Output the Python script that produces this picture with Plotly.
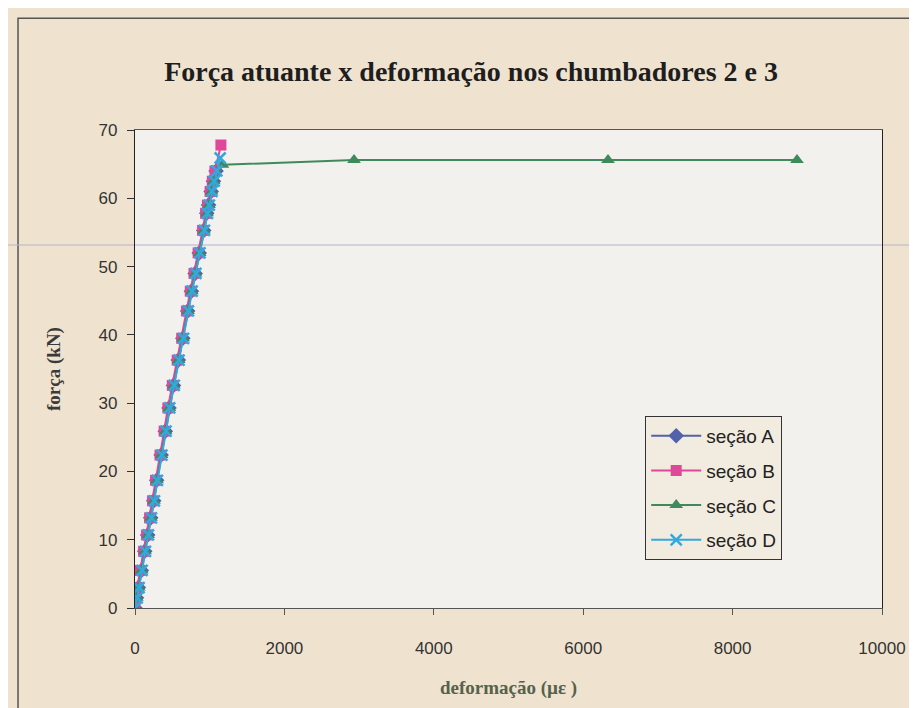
import plotly.graph_objects as go

# ---- data ----
force_A = [0, 1.5, 3, 5.5, 8.3, 10.7, 13.2, 15.7, 18.7, 22.4, 25.9, 29.3, 32.6, 36.3, 39.5, 43.5, 46.4, 49, 52, 55.3, 57.8, 59, 61, 62.5, 64]
strain_A = [0, 20, 45, 85, 130, 170, 210, 250, 290, 350, 405, 455, 515, 580, 640, 705, 755, 805, 860, 920, 960, 985, 1020, 1050, 1085]

force_B = [0, 1.5, 3, 5.5, 8.3, 10.7, 13.2, 15.7, 18.7, 22.4, 25.9, 29.3, 32.6, 36.3, 39.5, 43.5, 46.4, 49, 52, 55.3, 57.8, 59, 61, 62.5, 64, 67.8]
strain_B = [0, 10, 30, 70, 115, 155, 195, 235, 275, 335, 390, 440, 500, 565, 625, 690, 740, 790, 845, 905, 945, 970, 1005, 1035, 1070, 1150]

force_C = [0, 1.5, 3, 5.5, 8.3, 10.7, 13.2, 15.7, 18.7, 22.4, 25.9, 29.3, 32.6, 36.3, 39.5, 43.5, 46.4, 49, 52, 55.3, 57.8, 59, 61, 62.5, 64.9, 65.6, 65.6, 65.6]
strain_C = [0, 25, 50, 90, 135, 175, 215, 255, 295, 355, 410, 460, 520, 585, 645, 710, 760, 810, 865, 925, 965, 990, 1025, 1055, 1170, 2932, 6332, 8862]

force_D = [0, 1.5, 3, 5.5, 8.3, 10.7, 13.2, 15.7, 18.7, 22.4, 25.9, 29.3, 32.6, 36.3, 39.5, 43.5, 46.4, 49, 52, 55.3, 57.8, 59, 61, 62.5, 64, 65.9]
strain_D = [0, 30, 55, 95, 140, 180, 220, 260, 300, 360, 415, 465, 525, 590, 650, 715, 765, 815, 870, 930, 970, 995, 1030, 1060, 1095, 1140]

x_ticks = [0, 2000, 4000, 6000, 8000, 10000]
x_tick_text = ["0", "2000", "4000", "6000", "8000", "10000"]
y_ticks = [0, 10, 20, 30, 40, 50, 60, 70]

series = [
    ("seção A", strain_A, force_A, "#5262aa", "diamond", 12),
    ("seção B", strain_B, force_B, "#df479b", "square", 11),
    ("seção C", strain_C, force_C, "#3f8a5c", "triangle-up", 12),
    ("seção D", strain_D, force_D, "#31a9de", "x-thin-open", 11),
]

fig = go.Figure()
for name, xs, ys, col, sym, sz in series:
    fig.add_trace(go.Scatter(
        x=xs, y=ys, name=name, mode="lines+markers", legendgroup=name,
        line=dict(color=col, width=2),
        marker=dict(symbol=sym, size=sz, color=col,
                    line=dict(color=col, width=2.5 if sym.startswith("x") else 0)),
    ))

fig.update_layout(
    width=917, height=708,
    paper_bgcolor="#efe3d0",
    plot_bgcolor="#f3f1ed",
    margin=dict(l=127, r=43, t=122, b=108),
    title=dict(text="<b>Força atuante x deformação nos chumbadores 2 e 3</b>",
               font=dict(family="Liberation Serif", size=28, color="#1e1e1e"),
               x=0.505, xanchor="center", y=0.911, yanchor="middle"),
    showlegend=True,
    legend=dict(x=0.683, y=0.402, xanchor="left", yanchor="top",
                bgcolor="#f2ebdf", bordercolor="#333333", borderwidth=1,
                font=dict(family="Liberation Sans", size=19, color="#222222"),
                tracegroupgap=7, itemwidth=50),
    font=dict(family="Liberation Sans", size=17, color="#333333"),
    shapes=[
        dict(type="rect", xref="paper", yref="paper",
             x0=-0.1566, x1=1.2, y0=-0.4, y1=1.234,
             line=dict(color="#555555", width=1.5), layer="below"),
        dict(type="line", xref="paper", yref="paper",
             x0=-0.2, x1=1.1, y0=0.7594, y1=0.7594,
             line=dict(color="#b4b4cc", width=1), layer="below"),
    ],
)

fig.update_xaxes(range=[0, 10000], tickmode="array", tickvals=x_ticks, ticktext=x_tick_text,
                 showgrid=False, zeroline=False,
                 showline=True, linecolor="#555555", linewidth=1.2, mirror=True,
                 ticks="outside", ticklen=6, tickcolor="#555555", ticklabelstandoff=18,
                 tickfont=dict(family="Liberation Sans", size=17, color="#333333"),
                 title=dict(text="<b>deformação (µε )</b>", standoff=24,
                            font=dict(family="Liberation Serif", size=19, color="#56624c")))
fig.update_yaxes(range=[0, 70], tickmode="array", tickvals=y_ticks,
                 showgrid=False, zeroline=False,
                 showline=True, linecolor="#222222", linewidth=1.2, mirror=True,
                 ticks="outside", ticklen=7, tickcolor="#333333", ticklabelstandoff=6,
                 tickfont=dict(family="Liberation Sans", size=17, color="#333333"),
                 title=dict(text="<b>força (kN)</b>", standoff=32,
                            font=dict(family="Liberation Serif", size=19, color="#3a3a3a")))

fig.write_html("out.html")
